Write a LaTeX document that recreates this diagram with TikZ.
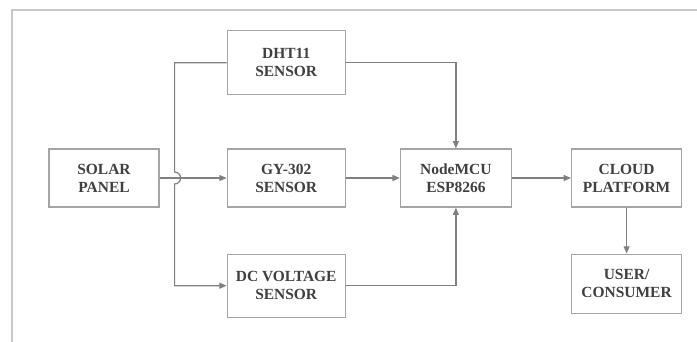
\documentclass[tikz,border=0pt]{standalone}
\usepackage{fontspec}
\setmainfont{Liberation Serif}
\usepackage{tikz}
\usetikzlibrary{arrows.meta,positioning,calc}
\definecolor{rahmen}{RGB}{200,200,200}
\definecolor{linie}{RGB}{128,128,128}
\definecolor{kasten}{RGB}{165,165,165}
\definecolor{schrift}{RGB}{64,64,64}
\tikzset{
  blok/.style={rectangle, draw=kasten, line width=0.9pt, minimum width=82.5pt, minimum height=43.5pt, align=center, font=\bfseries\fontsize{11.6}{13.5}\selectfont, text=schrift, inner sep=1pt},
  sensor/.style={blok, minimum width=88.5pt},
  kante/.style={draw=linie, line width=0.9pt},
  pfeil/.style={kante, -{Triangle[length=5.5pt,width=4.5pt]}}
}

\begin{document}
\begin{tikzpicture}[node distance=34.5pt and 50.25pt]
\useasboundingbox (-78pt,-123pt) rectangle (444.75pt,133.5pt);
\draw[rahmen, line width=1.5pt] (-69pt,-130pt) -- (-69pt,126pt) -- (450pt,126pt);

\node[blok] (solar) {SOLAR\\PANEL};
\node[sensor, right=of solar] (gy) {GY-302\\SENSOR};
\node[sensor, minimum height=48pt, above=39.75pt of gy] (dht) {DHT11\\SENSOR};
\node[sensor, minimum height=47.25pt, below=of gy] (dc) {DC VOLTAGE\\SENSOR};
\node[blok, minimum width=83.25pt, right=40.5pt of gy] (mcu) {NodeMCU\\ESP8266};
\node[blok, right=44.25pt of mcu] (cloud) {CLOUD\\PLATFORM};
\node[blok, minimum height=44.25pt, below=of cloud] (user) {USER/\\CONSUMER};

% Verteiler mit Sprung ueber die Leitung
\coordinate (bus) at ($(solar.east)+(11.25pt,0)$);
\draw[pfeil] (dht.west) -| ($(bus)+(0,4.5pt)$) arc[start angle=90, end angle=-90, radius=4.5pt] |- (dc.west);
\draw[pfeil] (solar) -- (gy);

\draw[pfeil] (gy) -- (mcu);
\draw[pfeil] (dht.east) -| (mcu.north);
\draw[pfeil] (dc.east) -| (mcu.south);
\draw[pfeil] (mcu) -- (cloud);
\draw[pfeil] (cloud) -- (user);

\end{tikzpicture}
\end{document}
